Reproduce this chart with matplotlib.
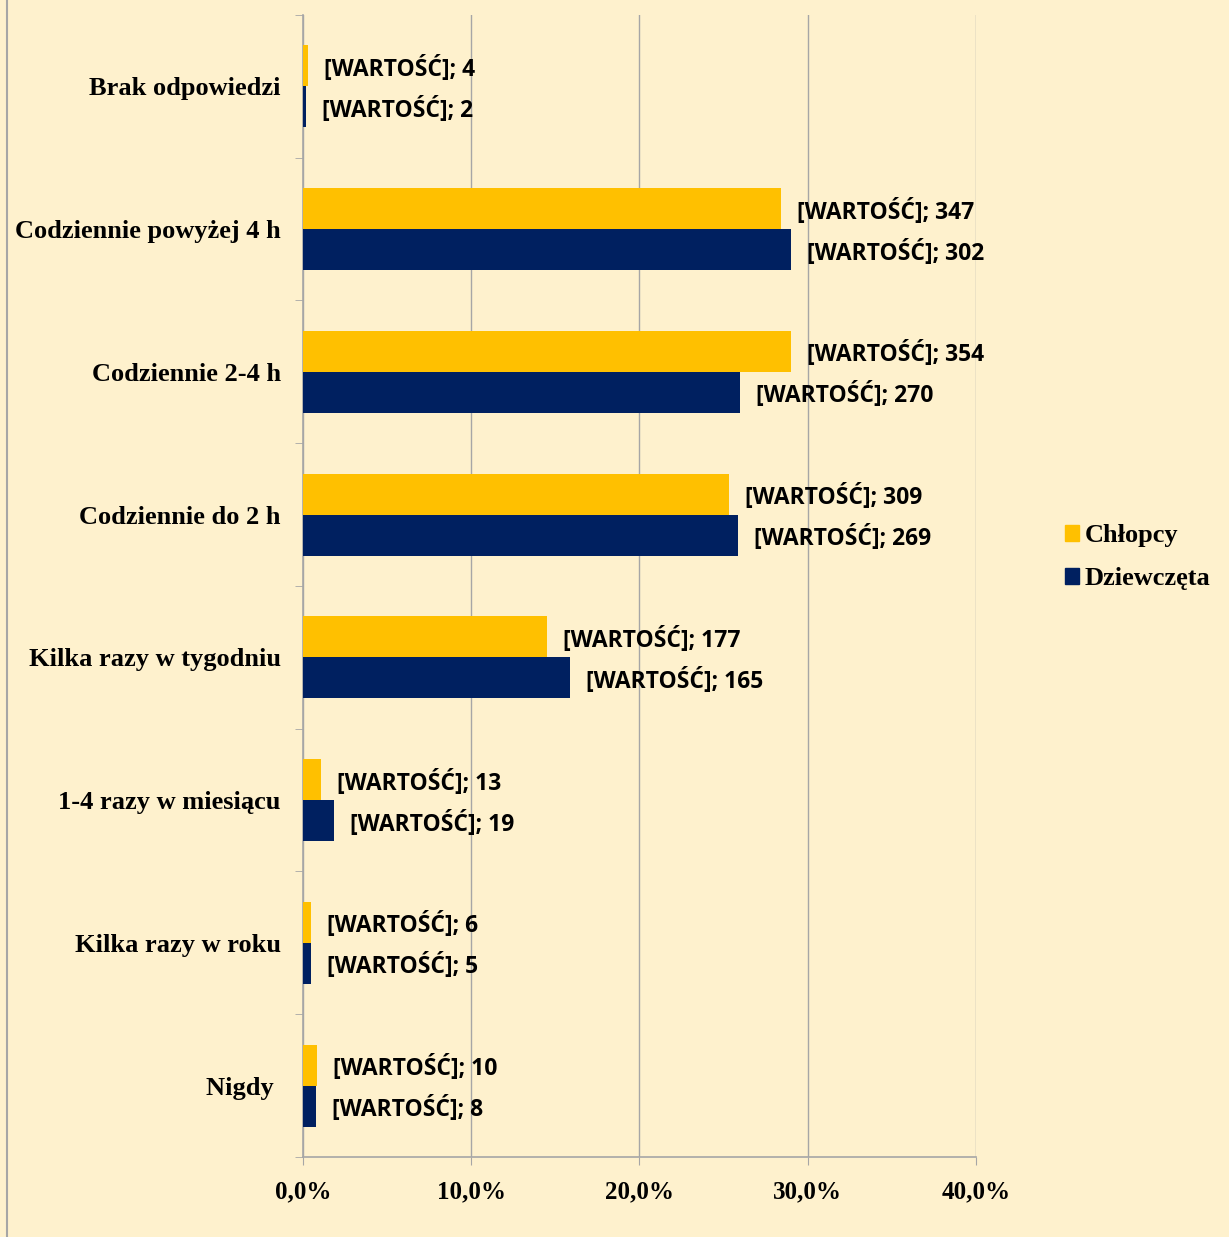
import numpy as np
import matplotlib.pyplot as plt
from matplotlib.lines import Line2D
from matplotlib.ticker import FuncFormatter, FixedLocator

# dane (od dołu wykresu do góry)
categories = ['Nigdy ', 'Kilka razy w roku', '1-4 razy w miesiącu',
              'Kilka razy w tygodniu', 'Codziennie do 2 h', 'Codziennie 2-4 h',
              'Codziennie powyżej 4 h', 'Brak odpowiedzi']
chlopcy = [10, 6, 13, 177, 309, 354, 347, 4]
dziewczeta = [8, 5, 19, 165, 269, 270, 302, 2]
x_ticks = [0, 10, 20, 30, 40]

# kolory
bg = '#FEF1CD'
c_chl = '#FFC000'
c_dz = '#002060'
grid_c = '#A6A6A6'

serif = ['Liberation Serif', 'DejaVu Serif']
label_font = ['Open Sans', 'DejaVu Sans']

chl_pct = np.array(chlopcy) / np.sum(chlopcy) * 100
dz_pct = np.array(dziewczeta) / np.sum(dziewczeta) * 100

fig = plt.figure(figsize=(12.29, 12.37), dpi=100, facecolor=bg)
ax = fig.add_axes([0.2465, 0.0647, 0.5475, 0.9232])
ax.set_facecolor(bg)

y = np.arange(len(categories))
h = 0.287
bars_c = ax.barh(y + h / 2, chl_pct, height=h, color=c_chl, label='Chłopcy', zorder=3)
bars_d = ax.barh(y - h / 2, dz_pct, height=h, color=c_dz, label='Dziewczęta', zorder=3)

# etykiety danych
for bars, vals in ((bars_c, chlopcy), (bars_d, dziewczeta)):
    for b, v in zip(bars, vals):
        ax.annotate('[WARTOŚĆ]; %d' % v,
                    xy=(b.get_width(), b.get_y() + b.get_height() / 2),
                    xytext=(11.5, 0), textcoords='offset points',
                    ha='left', va='center_baseline', fontsize=16.5, fontweight='bold',
                    family=label_font, color='#000000', zorder=4)

ax.set_xlim(0, 40)
ax.set_ylim(-0.5, len(categories) - 0.5)

# oś X
ax.xaxis.set_major_locator(FixedLocator(x_ticks))
ax.xaxis.set_major_formatter(FuncFormatter(lambda v, p: ('%.1f%%' % v).replace('.', ',')))
ax.tick_params(axis='x', length=6, color=grid_c, pad=11, labelsize=18,
               labelfontfamily='Liberation Serif')
ax.grid(axis='x', color=grid_c, linewidth=1, zorder=0)

# oś Y
ax.set_yticks(y)
ax.set_yticklabels(categories, family=serif, fontweight='bold', fontsize=19)
ax.set_yticks(np.arange(-0.5, len(categories), 1), minor=True)
ax.tick_params(axis='y', which='major', length=0, pad=16)
ax.tick_params(axis='y', which='minor', length=6, color=grid_c)
for t in ax.get_xticklabels():
    t.set_fontweight('bold')

for s in ['top', 'right']:
    ax.spines[s].set_visible(False)
for s in ['left', 'bottom']:
    ax.spines[s].set_color(grid_c)
    ax.spines[s].set_linewidth(1.2)

# legenda
handles = [plt.Rectangle((0, 0), 1, 1, color=c_chl), plt.Rectangle((0, 0), 1, 1, color=c_dz)]
ax.legend(handles, ['Chłopcy', 'Dziewczęta'], loc='center left',
          bbox_to_anchor=(0.847, 0.5495), bbox_transform=fig.transFigure,
          frameon=False, prop={'family': serif, 'weight': 'bold', 'size': 19},
          handlelength=0.55, handleheight=0.55, handletextpad=0.2, labelspacing=0.75)

# lewa ramka
fig.add_artist(Line2D([7 / 1229, 7 / 1229], [0, 1], color=grid_c, linewidth=1.5))

fig.savefig('out.png', dpi=100, facecolor=bg)
